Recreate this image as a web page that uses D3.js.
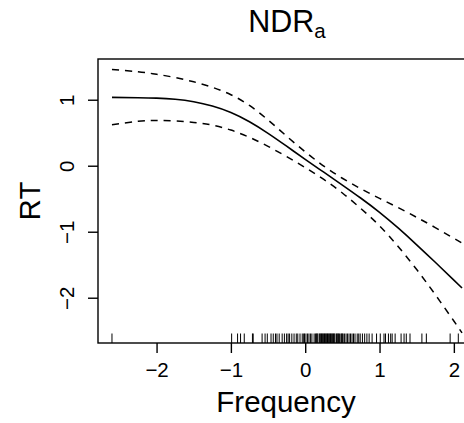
<!DOCTYPE html>
<html>
<head>
<meta charset="utf-8">
<script src="https://cdn.jsdelivr.net/npm/d3@7"></script>
<style>
  html, body { margin: 0; padding: 0; background: #fff; }
  svg { display: block; font-family: "Liberation Sans", Arial, Helvetica, sans-serif; }
</style>
</head>
<body>
<svg id="chart" width="464" height="423"></svg>
<script>
// Smooth term s(Frequency) for RT, with ±2 SE bands and a rug of observed values
const gridX  = [-2.60, -2.25, -2.00, -1.75, -1.50, -1.25, -1.00, -0.75, -0.50, -0.25, 0.00, 0.25, 0.50, 0.75, 1.00, 1.25, 1.50, 1.75, 2.00, 2.11];
const fitY   = [1.035, 1.031, 1.024, 1.006, 0.969, 0.904, 0.806, 0.666, 0.491, 0.296, 0.096, -0.098, -0.293, -0.493, -0.706, -0.943, -1.198, -1.463, -1.733, -1.853];
const upperY = [1.458, 1.423, 1.386, 1.336, 1.271, 1.188, 1.076, 0.913, 0.693, 0.448, 0.211, -0.005, -0.190, -0.350, -0.495, -0.635, -0.782, -0.937, -1.100, -1.173];
const lowerY = [0.620, 0.673, 0.685, 0.678, 0.655, 0.615, 0.540, 0.430, 0.293, 0.138, -0.028, -0.208, -0.413, -0.650, -0.910, -1.223, -1.573, -1.953, -2.353, -2.533];

const rugX = [
  -2.60,
  -0.99, -0.91, -0.87, -0.82, -0.71, -0.70, -0.58, -0.54, -0.51, -0.46, -0.43, -0.40,
  -0.38, -0.35, -0.31, -0.28, -0.25, -0.23, -0.21, -0.18, -0.15, -0.12, -0.10, -0.07,
  -0.04, -0.02, -0.01, 0.01, 0.03, 0.05, 0.07, 0.09, 0.12, 0.14, 0.15, 0.16, 0.17, 0.19, 0.20,
  0.21, 0.22, 0.23, 0.24, 0.25, 0.26, 0.27, 0.28, 0.29, 0.30, 0.31, 0.32, 0.33, 0.34, 0.35,
  0.36, 0.37, 0.38, 0.39, 0.40, 0.42, 0.43, 0.44, 0.45, 0.46, 0.48, 0.49, 0.50, 0.51, 0.53,
  0.55, 0.57, 0.59, 0.61, 0.63, 0.65, 0.67, 0.70, 0.72, 0.74, 0.77, 0.80, 0.83, 0.86,
  0.90, 0.96, 1.01, 1.06, 1.08, 1.12, 1.15, 1.17, 1.21, 1.29, 1.33, 1.36, 1.41,
  1.57, 1.63, 1.95, 2.06
];

const xTicks = [-2, -1, 0, 1, 2];
const yTicks = [-2, -1, 0, 1];

const titleMain = "NDR";
const titleSub = "a";
const xLabel = "Frequency";
const yLabel = "RT";

const svg = d3.select("#chart");
svg.append("rect").attr("width", 464).attr("height", 423).attr("fill", "#fff");

// Plot region
const plotL = 98, plotT = 59, plotR = 476, plotB = 343;
const x = d3.scaleLinear().domain([-2.788, 2.298]).range([plotL, plotR]);
const y = d3.scaleLinear().domain([-2.686, 1.617]).range([plotB, plotT]);

const fmt = d => (d < 0 ? "\u2212" + Math.abs(d) : String(d));

// Curves
const line = d3.line().curve(d3.curveNatural)
  .x(d => x(d[0])).y(d => y(d[1]));

const plot = svg.append("g");
plot.append("path").datum(gridX.map((v, i) => [v, fitY[i]]))
  .attr("d", line).attr("fill", "none").attr("stroke", "#000").attr("stroke-width", 1.6);
[upperY, lowerY].forEach(arr => {
  plot.append("path").datum(gridX.map((v, i) => [v, arr[i]]))
    .attr("d", line).attr("fill", "none").attr("stroke", "#000")
    .attr("stroke-width", 1.5).attr("stroke-dasharray", "7,6");
});

// Rug along the bottom edge
plot.selectAll("line.rug").data(rugX).enter().append("line")
  .attr("class", "rug")
  .attr("x1", d => x(d)).attr("x2", d => x(d))
  .attr("y1", plotB).attr("y2", plotB - 9.5)
  .attr("stroke", "#000").attr("stroke-width", 1);

// Box
svg.append("rect").attr("x", plotL).attr("y", plotT)
  .attr("width", plotR - plotL).attr("height", plotB - plotT)
  .attr("fill", "none").attr("stroke", "#000").attr("stroke-width", 1.4);

// X axis
const xAxis = d3.axisBottom(x).tickValues(xTicks).tickSize(10).tickFormat(fmt);
const gx = svg.append("g").attr("transform", `translate(0,${plotB})`).call(xAxis);
gx.select(".domain").remove();
gx.selectAll(".tick line").attr("stroke", "#000").attr("stroke-width", 1.4);
gx.selectAll(".tick text").attr("font-size", 20.5).attr("fill", "#000")
  .attr("font-family", "Liberation Sans, Arial, sans-serif")
  .attr("dy", null).attr("y", 34);

// Y axis (labels rotated, as in base graphics)
const yAxis = d3.axisLeft(y).tickValues(yTicks).tickSize(10).tickFormat(fmt);
const gy = svg.append("g").attr("transform", `translate(${plotL},0)`).call(yAxis);
gy.select(".domain").remove();
gy.selectAll(".tick line").attr("stroke", "#000").attr("stroke-width", 1.4);
gy.selectAll(".tick text").attr("font-size", 20.5).attr("fill", "#000")
  .attr("font-family", "Liberation Sans, Arial, sans-serif")
  .attr("x", null).attr("dy", null)
  .attr("text-anchor", "middle")
  .attr("transform", "translate(-24.5,0) rotate(-90)");

// Axis titles
svg.append("text").attr("x", 286).attr("y", 411.5)
  .attr("text-anchor", "middle").attr("font-size", 29.5).attr("fill", "#000")
  .text(xLabel);
svg.append("text").attr("transform", "translate(40,201) rotate(-90)")
  .attr("text-anchor", "middle").attr("font-size", 29.5).attr("fill", "#000")
  .text(yLabel);

// Main title with subscript
const t = svg.append("text").attr("x", 287).attr("y", 32)
  .attr("text-anchor", "middle").attr("font-size", 30.5).attr("fill", "#000");
t.append("tspan").text(titleMain);
t.append("tspan").attr("font-size", 20.5).attr("dy", 5.6).text(titleSub);
</script>
</body>
</html>
